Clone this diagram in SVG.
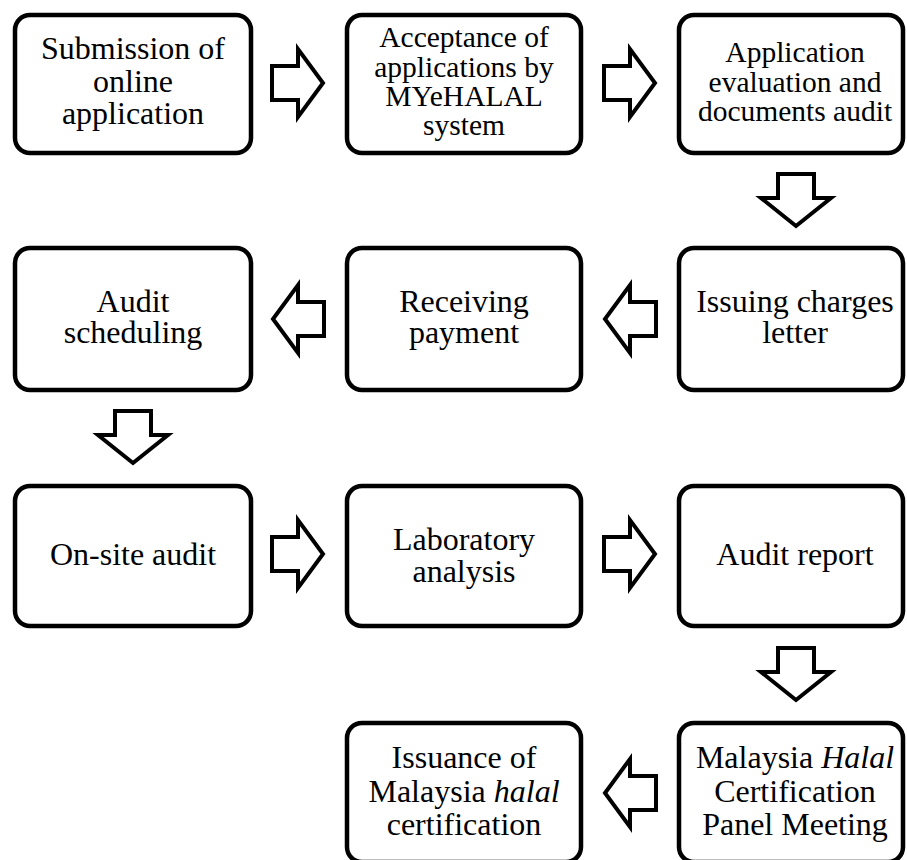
<svg xmlns="http://www.w3.org/2000/svg" width="907" height="860" viewBox="0 0 907 860">
<style>
.box{fill:#fff;stroke:#000;stroke-width:4.5}
.arr{fill:#fff;stroke:#000;stroke-width:4;stroke-linejoin:miter}
text{font-family:"Liberation Serif","Times New Roman",serif;font-size:32px;fill:#000;text-anchor:middle}
.sm{font-size:29.5px}
</style>
<defs>
<path id="ar" d="M0,-17 L26,-17 L26,-34 L51,0 L26,34 L26,17 L0,17 Z"/>
<path id="al" d="M0,-17 L-26,-17 L-26,-34 L-51,0 L-26,34 L-26,17 L0,17 Z"/>
<path id="ad" d="M-18,0 L-18,24 L-35,24 L0,52 L35,24 L18,24 L18,0 Z"/>
</defs>
<rect width="907" height="860" fill="#fff"/>
<g id="connectors">
<use href="#ar" class="arr" x="272" y="83"/>
<use href="#ar" class="arr" x="604" y="83"/>
<use href="#ad" class="arr" x="796" y="174"/>
<use href="#al" class="arr" x="656" y="319"/>
<use href="#al" class="arr" x="324" y="319"/>
<use href="#ad" class="arr" x="133" y="411"/>
<use href="#ar" class="arr" x="272" y="554"/>
<use href="#ar" class="arr" x="604" y="554"/>
<use href="#ad" class="arr" x="796" y="648"/>
<use href="#al" class="arr" x="656" y="793"/>
</g>
<g id="n1"><rect class="box" x="15" y="15" width="236" height="138" rx="15"/>
<text x="133"><tspan x="133" y="59">Submission of</tspan><tspan x="133" y="92">online</tspan><tspan x="133" y="124">application</tspan></text></g>
<g id="n2"><rect class="box" x="347" y="15" width="234" height="138" rx="15"/>
<text class="sm"><tspan x="464" y="47">Acceptance of</tspan><tspan x="464" y="77">applications by</tspan><tspan x="464" y="106">MYeHALAL</tspan><tspan x="464" y="135">system</tspan></text></g>
<g id="n3"><rect class="box" x="679" y="15" width="224" height="138" rx="15"/>
<text class="sm"><tspan x="795" y="62">Application</tspan><tspan x="795" y="92">evaluation and</tspan><tspan x="795" y="121">documents audit</tspan></text></g>
<g id="n4"><rect class="box" x="679" y="248" width="224" height="142" rx="15"/>
<text><tspan x="795" y="312">Issuing charges</tspan><tspan x="795" y="343">letter</tspan></text></g>
<g id="n5"><rect class="box" x="347" y="248" width="234" height="142" rx="15"/>
<text><tspan x="464" y="312">Receiving</tspan><tspan x="464" y="343">payment</tspan></text></g>
<g id="n6"><rect class="box" x="15" y="248" width="236" height="142" rx="15"/>
<text><tspan x="133" y="312">Audit</tspan><tspan x="133" y="343">scheduling</tspan></text></g>
<g id="n7"><rect class="box" x="15" y="486" width="236" height="140" rx="15"/>
<text x="133" y="565">On-site audit</text></g>
<g id="n8"><rect class="box" x="347" y="486" width="234" height="140" rx="15"/>
<text><tspan x="464" y="550">Laboratory</tspan><tspan x="464" y="582">analysis</tspan></text></g>
<g id="n9"><rect class="box" x="679" y="486" width="224" height="140" rx="15"/>
<text x="795" y="565">Audit report</text></g>
<g id="n10"><rect class="box" x="679" y="723" width="224" height="139" rx="15"/>
<text><tspan x="795" y="768">Malaysia <tspan font-style="italic">Halal</tspan></tspan><tspan x="795" y="802">Certification</tspan><tspan x="795" y="835">Panel Meeting</tspan></text></g>
<g id="n11"><rect class="box" x="347" y="723" width="234" height="139" rx="15"/>
<text><tspan x="464" y="768">Issuance of</tspan><tspan x="464" y="802">Malaysia <tspan font-style="italic">halal</tspan></tspan><tspan x="464" y="835">certification</tspan></text></g>
</svg>
